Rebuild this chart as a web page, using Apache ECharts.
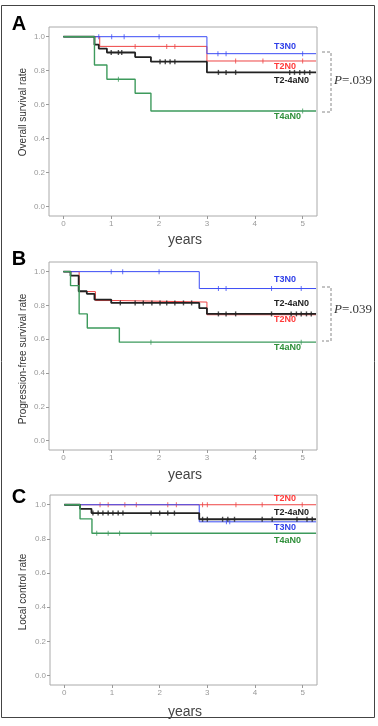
<!DOCTYPE html>
<html>
<head>
<meta charset="utf-8">
<script src="https://cdn.jsdelivr.net/npm/echarts@6/dist/echarts.min.js"></script>
<style>
  html, body { margin: 0; padding: 0; background: #fff; }
  #main { width: 378px; height: 726px; }
</style>
</head>
<body>
<div id="main"></div>
<script>
// group names and colours
const groupNames = ['T2N0', 'T3N0', 'T2-4aN0', 'T4aN0'];
const groupColors = ['#ee4444', '#3b4cf5', '#222222', '#3d9a5c'];
const labelColors = ['#ff3b3b', '#2f3fe8', '#222222', '#2f8f3a'];
const lineWidths = [1, 1, 1.8, 1.4];

const xTicks = [0, 1, 2, 3, 4, 5];
const yTicks = [0, 0.2, 0.4, 0.6, 0.8, 1.0];

// A: overall survival (event times, survival after the step, censor times)
const osRedT = [0, 0.76, 3.0, 5.28];
const osRedS = [1, 0.943, 0.857, 0.857];
const osRedC = [1.5, 2.16, 2.33, 3.6, 4.17, 5.0];
const osBlueT = [0, 3.0, 5.28];
const osBlueS = [1, 0.9, 0.9];
const osBlueC = [0.74, 1.01, 1.27, 2.0, 3.23, 3.4, 5.0];
const osBlackT = [0, 0.65, 0.74, 0.91, 1.5, 1.83, 3.0, 5.28];
const osBlackS = [1, 0.953, 0.93, 0.907, 0.88, 0.853, 0.79, 0.79];
const osBlackC = [1.0, 1.15, 1.22, 2.02, 2.13, 2.23, 2.33, 3.24, 3.4, 3.6, 4.73, 4.83, 4.94, 5.04, 5.15];
const osGreenT = [0, 0.65, 0.91, 1.5, 1.83, 5.28];
const osGreenS = [1, 0.833, 0.75, 0.667, 0.563, 0.563];
const osGreenC = [1.15, 5.0];

// B: progression-free survival
const pfsRedT = [0, 0.33, 0.67, 1.17, 3.0, 5.28];
const pfsRedS = [1, 0.882, 0.829, 0.82, 0.745, 0.745];
const pfsRedC = [];
const pfsBlueT = [0, 2.84, 5.28];
const pfsBlueS = [1, 0.9, 0.9];
const pfsBlueC = [1.0, 1.24, 2.0, 3.24, 3.4, 4.35, 4.97];
const pfsBlackT = [0, 0.15, 0.32, 0.49, 0.65, 1.0, 2.84, 3.0, 5.28];
const pfsBlackS = [1, 0.976, 0.884, 0.869, 0.835, 0.815, 0.784, 0.75, 0.75];
const pfsBlackC = [1.19, 1.5, 1.67, 1.85, 2.02, 2.16, 2.33, 2.51, 2.68, 3.24, 3.4, 3.6, 4.35, 4.76, 4.87, 4.97, 5.08, 5.18];
const pfsGreenT = [0, 0.15, 0.33, 0.5, 1.17, 5.28];
const pfsGreenS = [1, 0.917, 0.75, 0.667, 0.583, 0.583];
const pfsGreenC = [1.83, 4.97];

// C: local control
const lcRedT = [0, 5.28];
const lcRedS = [1, 1];
const lcRedC = [0.75, 0.92, 1.27, 1.51, 2.17, 2.35, 2.9, 3.0, 3.6, 4.15, 4.99];
const lcBlueT = [0, 2.83, 5.28];
const lcBlueS = [1, 0.9, 0.9];
const lcBlueC = [3.4, 3.47];
const lcBlackT = [0, 0.33, 0.57, 2.83, 5.28];
const lcBlackS = [1, 0.976, 0.951, 0.915, 0.915];
const lcBlackC = [0.6, 0.71, 0.81, 0.92, 1.02, 1.13, 1.23, 1.82, 2.0, 2.17, 2.31, 2.9, 3.0, 3.32, 3.43, 3.57, 4.15, 4.36, 4.88, 5.09, 5.2];
const lcGreenT = [0, 0.33, 0.58, 5.28];
const lcGreenS = [1, 0.917, 0.833, 0.833];
const lcGreenC = [0.68, 0.92, 1.16, 1.82];

const panels = [
  {
    letter: 'A', title: 'Overall survival rate',
    grid: { left: 49, top: 27, width: 268, height: 189 },
    curves: [[osRedT, osRedS, osRedC], [osBlueT, osBlueS, osBlueC], [osBlackT, osBlackS, osBlackC], [osGreenT, osGreenS, osGreenC]],
    labelY: [67, 47, 81, 117], titleY: 112, letterY: 24, yearsY: 240,
    bracket: [52, 112], pY: 81
  },
  {
    letter: 'B', title: 'Progression-free survival rate',
    grid: { left: 49, top: 262, width: 268, height: 188 },
    curves: [[pfsRedT, pfsRedS, pfsRedC], [pfsBlueT, pfsBlueS, pfsBlueC], [pfsBlackT, pfsBlackS, pfsBlackC], [pfsGreenT, pfsGreenS, pfsGreenC]],
    labelY: [320, 280, 304, 348], titleY: 359, letterY: 259, yearsY: 475,
    bracket: [287, 341], pY: 310
  },
  {
    letter: 'C', title: 'Local control rate',
    grid: { left: 50, top: 495, width: 267, height: 190 },
    curves: [[lcRedT, lcRedS, lcRedC], [lcBlueT, lcBlueS, lcBlueC], [lcBlackT, lcBlackS, lcBlackC], [lcGreenT, lcGreenS, lcGreenC]],
    labelY: [499, 528, 513, 541], titleY: 592, letterY: 497, yearsY: 712,
    bracket: null
  }
];

// survival value at time c (step function lookup)
function survAt(T, S, c) {
  let v = S[0];
  for (let i = 0; i < T.length; i++) if (T[i] <= c) v = S[i];
  return v;
}

const grids = [], xAxes = [], yAxes = [], series = [], graphics = [];

graphics.push({
  type: 'rect', shape: { x: 1.5, y: 5.5, width: 373, height: 712 },
  style: { fill: null, stroke: '#444', lineWidth: 1 }, z: 0
});

panels.forEach((p, pi) => {
  grids.push(Object.assign({ show: true, borderColor: '#aaa', borderWidth: 1, backgroundColor: 'transparent' }, p.grid));
  xAxes.push({
    gridIndex: pi, type: 'value', min: -0.3, max: 5.3,
    axisLine: { show: false, onZero: false },
    axisTick: { show: true, length: 3, customValues: xTicks, lineStyle: { color: '#999' } },
    axisLabel: { customValues: xTicks, color: '#999', fontSize: 8, margin: 4, fontFamily: 'Liberation Sans' },
    splitLine: { show: false }
  });
  yAxes.push({
    gridIndex: pi, type: 'value', min: -0.055, max: 1.057,
    axisLine: { show: false, onZero: false },
    axisTick: { show: true, length: 3, customValues: yTicks, lineStyle: { color: '#999' } },
    axisLabel: { customValues: yTicks, color: '#999', fontSize: 8, margin: 4, fontFamily: 'Liberation Sans',
      formatter: v => v.toFixed(1) },
    splitLine: { show: false }
  });

  p.curves.forEach((c, gi) => {
    const [T, S, C] = c;
    series.push({
      type: 'line', step: 'end', xAxisIndex: pi, yAxisIndex: pi,
      data: T.map((t, i) => [t, S[i]]),
      symbol: 'none', silent: true, animation: false, z: 2 + gi,
      lineStyle: { color: groupColors[gi], width: lineWidths[gi] }
    });
    series.push({
      type: 'scatter', xAxisIndex: pi, yAxisIndex: pi,
      data: C.map(t => [t, survAt(T, S, t)]),
      symbol: 'rect', symbolSize: [gi === 2 ? 1.4 : 1, 5],
      silent: true, animation: false, z: 2 + gi,
      itemStyle: { color: groupColors[gi] }
    });
    graphics.push({
      type: 'text', x: 274, y: p.labelY[gi],
      style: { text: groupNames[gi], fill: labelColors[gi], font: 'bold 9px "Liberation Sans"',
        align: 'left', verticalAlign: 'middle', textAlign: 'left', textVerticalAlign: 'middle' }
    });
  });

  graphics.push({
    type: 'text', x: 19, y: p.letterY,
    style: { text: p.letter, fill: '#000', font: 'bold 20px "Liberation Sans"',
      align: 'center', verticalAlign: 'middle', textAlign: 'center', textVerticalAlign: 'middle' }
  });
  graphics.push({
    type: 'text', x: 23, y: p.titleY, rotation: Math.PI / 2,
    style: { text: p.title, fill: '#333', font: '10px "Liberation Sans"',
      align: 'center', verticalAlign: 'middle', textAlign: 'center', textVerticalAlign: 'middle' }
  });
  graphics.push({
    type: 'text', x: 185, y: p.yearsY,
    style: { text: 'years', fill: '#444', font: '14px "Liberation Sans"',
      align: 'center', verticalAlign: 'middle', textAlign: 'center', textVerticalAlign: 'middle' }
  });
  if (p.bracket) {
    const [y0, y1] = p.bracket;
    graphics.push({
      type: 'polyline', shape: { points: [[322, y0], [331, y0], [331, y1], [322, y1]] },
      style: { stroke: '#888', lineWidth: 1, lineDash: [3, 2], fill: null }
    });
    graphics.push({
      type: 'text', x: 334, y: p.pY,
      style: { text: '{i|P}=.039', fill: '#333', font: '13px "Liberation Serif"',
        rich: { i: { fontStyle: 'italic', fontFamily: 'Liberation Serif', fontSize: 13, fill: '#333' } },
        align: 'left', verticalAlign: 'middle', textAlign: 'left', textVerticalAlign: 'middle' }
    });
  }
});

const chart = echarts.init(document.getElementById('main'), null, { renderer: 'canvas' });
chart.setOption({
  animation: false,
  backgroundColor: '#fff',
  grid: grids,
  xAxis: xAxes,
  yAxis: yAxes,
  series: series,
  graphic: graphics
});
</script>
</body>
</html>
